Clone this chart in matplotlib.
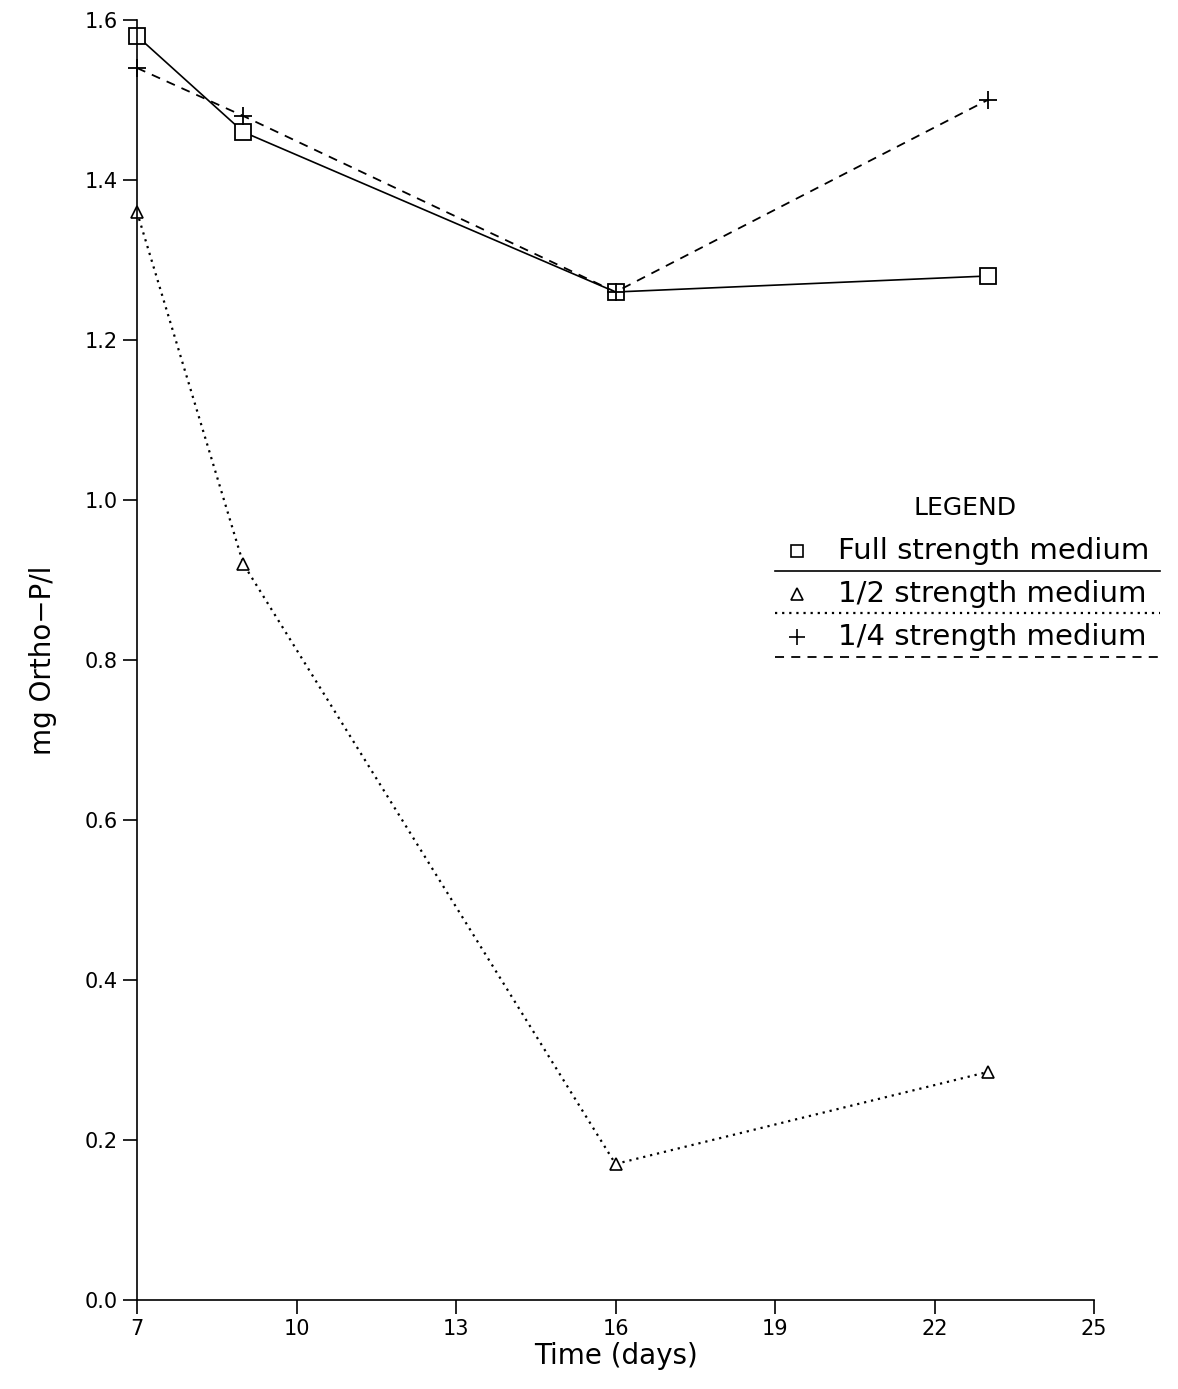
import numpy as np
import matplotlib.pyplot as plt
from matplotlib.lines import Line2D

# Data
days = [7, 9, 16, 23]
full_strength = [1.58, 1.46, 1.26, 1.28]
half_strength = [1.36, 0.92, 0.17, 0.285]
quarter_strength = [1.54, 1.48, 1.26, 1.50]

x_ticks = [7, 10, 13, 16, 19, 22, 25]
y_ticks = [0.0, 0.2, 0.4, 0.6, 0.8, 1.0, 1.2, 1.4, 1.6]

plt.rcParams['font.family'] = ['DejaVu Sans']

fig = plt.figure(figsize=(11.78, 13.89), dpi=100)
ax = fig.add_axes([0.1163, 0.0641, 0.8124, 0.9215])

ax.plot(days, full_strength, color='black', lw=1.2, ls='-',
        marker='s', ms=11, mfc='white', mec='black', mew=1.3, clip_on=False)
ax.plot(days, half_strength, color='black', lw=1.6, ls=(0, (1, 2.2)),
        marker='^', ms=9, mfc='white', mec='black', mew=1.2, clip_on=False)
ax.plot(days, quarter_strength, color='black', lw=1.3, ls=(0, (5, 4)),
        marker='+', ms=13, mec='black', mew=1.3, clip_on=False)

ax.set_xlim(7, 25)
ax.set_ylim(0, 1.6)
ax.set_xticks(x_ticks)
ax.set_yticks(y_ticks)
ax.set_xticklabels([str(t) for t in x_ticks])
ax.set_yticklabels([f'{t:.1f}' for t in y_ticks])
ax.tick_params(direction='out', length=10, width=1.2, labelsize=15, pad=4)
ax.spines['top'].set_visible(False)
ax.spines['right'].set_visible(False)
ax.spines['left'].set_linewidth(1.2)
ax.spines['bottom'].set_linewidth(1.2)

ax.set_xlabel('Time (days)', fontsize=20, labelpad=2)
ax.set_ylabel('mg Ortho\u2212P/l', fontsize=20, labelpad=20)

# Custom legend block
fs = 21
def px(x, y):
    # convert figure pixel position (from top-left) to axes fraction
    return ((x - 137) / (1094 - 137), (1300 - y) / (1300 - 20))

lx0, lx1 = px(775, 0)[0], px(1160, 0)[0]
ax.text(*px(965, 508), 'LEGEND', transform=ax.transAxes, fontsize=18,
        ha='center', va='center')
entries = [
    ('s', 9, 'Full strength medium', '-', 1.2, 551, 571),
    ('^', 8, '1/2 strength medium', (0, (1, 2.2)), 1.6, 594, 613),
    ('+', 11, '1/4 strength medium', (0, (5, 4)), 1.3, 637, 657),
]
for mk, ms, label, ls, lw, ty, ly in entries:
    mx, my = px(797, ty)
    ax.plot([mx], [my], transform=ax.transAxes, marker=mk, ms=ms,
            mfc='white', mec='black', mew=1.2, ls='none', clip_on=False)
    tx, _ = px(838, ty)
    ax.text(tx, my, label, transform=ax.transAxes, fontsize=fs,
            ha='left', va='center')
    _, lyy = px(0, ly)
    ax.add_line(Line2D([lx0, lx1], [lyy, lyy], transform=ax.transAxes,
                       color='black', lw=lw, ls=ls, clip_on=False))

fig.savefig('out.png', dpi=100)
